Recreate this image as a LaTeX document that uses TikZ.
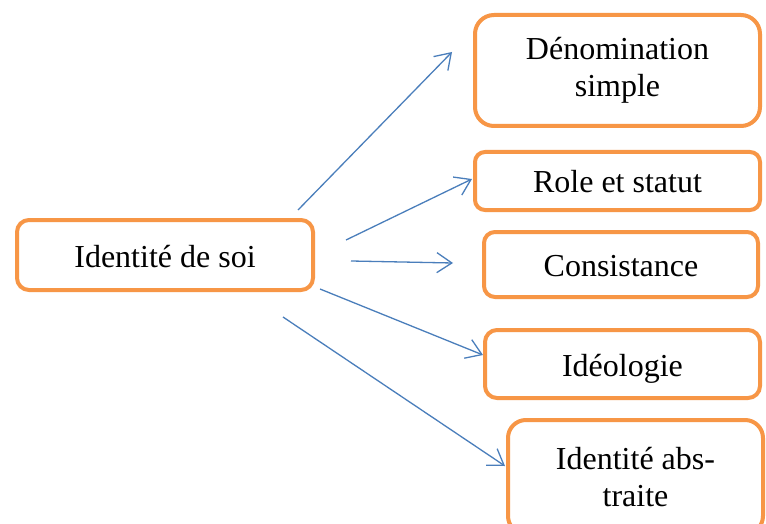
\documentclass[tikz,border=0pt]{standalone}
\usepackage{fontspec}
\setmainfont{Liberation Serif}
\usetikzlibrary{arrows.meta}
\definecolor{boxorange}{HTML}{F79646}
\definecolor{arrowblue}{HTML}{4A7EBB}
\begin{document}
\begin{tikzpicture}[x=1pt,y=-1pt,
  box/.style={draw=boxorange, line width=4pt, fill=white, align=center,
    font=\fontsize{32}{37}\selectfont, inner sep=0pt},
  oneline/.style={text height=24pt, text depth=0pt},
  link/.style={draw=arrowblue, line width=1.3pt,
    -{Straight Barb[length=15pt,width=20pt,line width=1.3pt]}}]
\clip (0,0) rectangle (766,524);
\fill[white] (0,0) rectangle (766,524);
% boxes
\node[box, oneline, minimum width=296pt, minimum height=70pt, rounded corners=12pt] (soi) at (165,255) {Identité de soi};
\node[box, minimum width=285pt, minimum height=111pt, rounded corners=19pt] (denom) at (617.5,70.5) {Dénomination\\simple};
\node[box, oneline, minimum width=285pt, minimum height=58pt, rounded corners=10pt] (role) at (617.5,181) {Role et statut};
\node[box, oneline, minimum width=274pt, minimum height=65pt, rounded corners=11pt] (cons) at (621,264.5) {Consistance};
\node[box, oneline, minimum width=275pt, minimum height=68pt, rounded corners=12pt] (ideo) at (622.5,364) {Idéologie};
\node[box, minimum width=255pt, minimum height=114pt, rounded corners=18pt] (abst) at (635.5,477) {Identité abs-\\traite};
% connector end points
\coordinate (s1) at (298,210); \coordinate (e1) at (452,52);
\coordinate (s2) at (346,240); \coordinate (e2) at (472,179);
\coordinate (s3) at (351,261); \coordinate (e3) at (453,263);
\coordinate (s4) at (320,289); \coordinate (e4) at (483,355);
\coordinate (s5) at (283,317); \coordinate (e5) at (505,466);
\draw[link] (s1) -- (e1);
\draw[link] (s2) -- (e2);
\draw[link] (s3) -- (e3);
\draw[link] (s4) -- (e4);
\draw[link] (s5) -- (e5);
\end{tikzpicture}
\end{document}
